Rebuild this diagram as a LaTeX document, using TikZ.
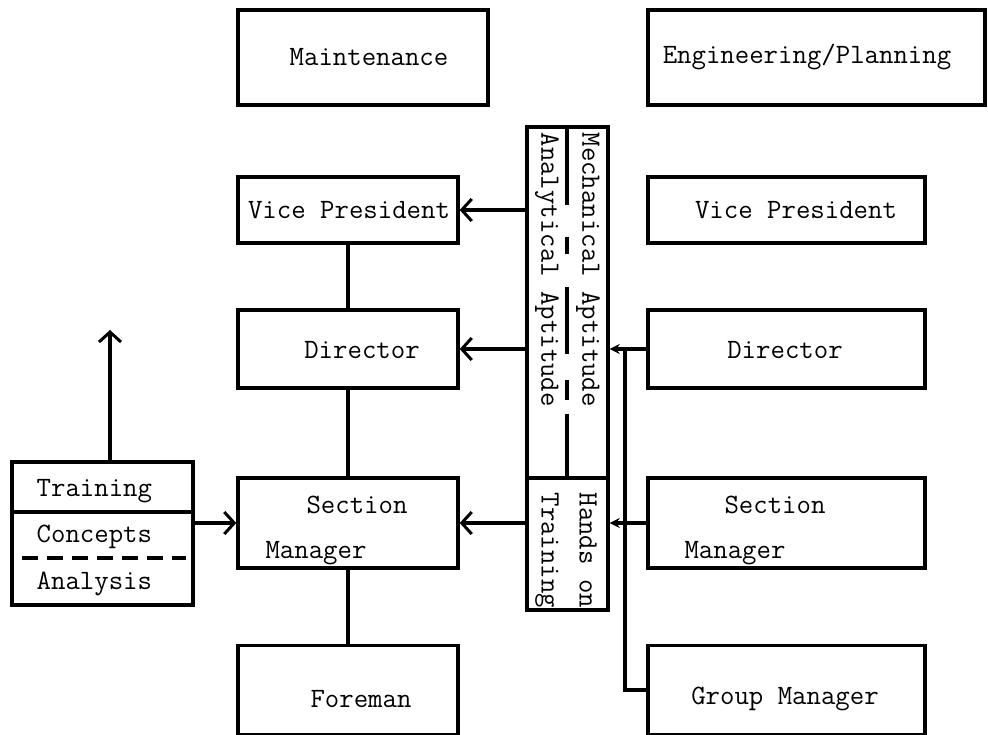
\documentclass[tikz,border=0pt]{standalone}
\usepackage{fontspec}
\usetikzlibrary{arrows.meta}
\begin{document}
\begin{tikzpicture}[x=1pt,y=-1pt,
  line width=3.4pt,
  every node/.style={font=\ttfamily\addfontfeatures{FakeBold=1.2}\fontsize{28}{34}\selectfont, inner sep=0pt},
  box/.style={draw, rectangle, inner sep=0pt, line width=3.4pt},
  lbl/.style={anchor=center},
  vlbl/.style={rotate=-90, anchor=west},
  open/.style={-{Straight Barb[length=10pt,width=22pt,line width=3pt]}},
  solidtip/.style={-{Stealth[length=10pt,width=10pt]}}]
\useasboundingbox (0,0) rectangle (988,734);
% top boxes
\node[box, minimum width=250pt, minimum height=95pt] (maint) at (363,57.5) {};
\node[lbl] (maintT) at (369,57) {Maintenance};
\node[box, minimum width=337pt, minimum height=95pt] (eng) at (816.5,57.5) {};
\node[lbl] (engT) at (807,57) {Engineering/Planning};
% left column
\node[box, minimum width=220pt, minimum height=66pt] (vpL) at (348,210) {};
\node[lbl] (vpLT) at (349,210) {Vice President};
\node[box, minimum width=220pt, minimum height=78pt] (dirL) at (348,349) {};
\node[lbl] (dirLT) at (362,350) {Director};
\node[box, minimum width=220pt, minimum height=90pt] (secL) at (348,523) {};
\node[lbl] (secLT1) at (357,505) {Section};
\node[lbl] (secLT2) at (316,553) {Manager};
\node[box, minimum width=220pt, minimum height=89pt] (fore) at (348,690) {};
\node[lbl] (foreT) at (361,699) {Foreman};
% right column
\node[box, minimum width=277pt, minimum height=66pt] (vpR) at (786.5,210) {};
\node[lbl] (vpRT) at (796,210) {Vice President};
\node[box, minimum width=277pt, minimum height=78pt] (dirR) at (786.5,349) {};
\node[lbl] (dirRT) at (785,350) {Director};
\node[box, minimum width=277pt, minimum height=90pt] (secR) at (786.5,523) {};
\node[lbl] (secRT1) at (775,505) {Section};
\node[lbl] (secRT2) at (735,553) {Manager};
\node[box, minimum width=277pt, minimum height=89pt] (gm) at (786.5,690) {};
\node[lbl] (gmT) at (785,699) {Group Manager};
% central vertical box
\node[box, minimum width=81pt, minimum height=483pt] (cb) at (567.5,368.5) {};
\coordinate (divL) at (527,478);
\coordinate (divR) at (608,478);
\draw (divL) -- (divR);
\coordinate (mtop) at (567,127);
\coordinate (mbot) at (567,478);
\draw[dash pattern=on 78pt off 32pt on 17pt off 33pt on 67pt off 26pt on 20pt off 14pt on 80pt] (mtop) -- (mbot);
\node[vlbl] (mech) at (588,131) {Mechanical Aptitude};
\node[vlbl] (anal) at (547,131) {Analytical Aptitude};
\node[vlbl] (hands) at (588,491) {Hands on};
\node[vlbl] (trn) at (547,491) {Training};
% training box
\node[box, minimum width=181pt, minimum height=143pt] (tb) at (102.5,533.5) {};
\coordinate (tdl) at (12,512);
\coordinate (tdr) at (193,512);
\draw (tdl) -- (tdr);
\coordinate (dl) at (22,558);
\coordinate (dr) at (186,558);
\draw[dash pattern=on 16pt off 9pt] (dl) -- (dr);
\node[anchor=west] (t1) at (35,491) {Training};
\node[anchor=west] (t2) at (35,537) {Concepts};
\node[anchor=west] (t3) at (35,584) {Analysis};
\coordinate (up) at (110,330);
\draw[open] (tb.north -| up) -- (up);
\draw[open] (tb.east |- secL.west) -- (secL.west);
% left vertical connectors
\draw (vpL.south) -- (dirL.north);
\draw (dirL.south) -- (secL.north);
\draw (secL.south) -- (fore.north);
% arrows from central box to left column
\draw[open] (vpL.east -| cb.west) -- (vpL.east);
\draw[open] (dirL.east -| cb.west) -- (dirL.east);
\draw[open] (secL.east -| cb.west) -- (secL.east);
% arrows from right column to central box
\draw[solidtip] (dirR.west) -- (dirR.west -| cb.east);
\draw[solidtip] (secR.west) -- (secR.west -| cb.east);
\coordinate (j1) at (625,349);
\draw (j1) |- (gm.west);
\end{tikzpicture}
\end{document}
